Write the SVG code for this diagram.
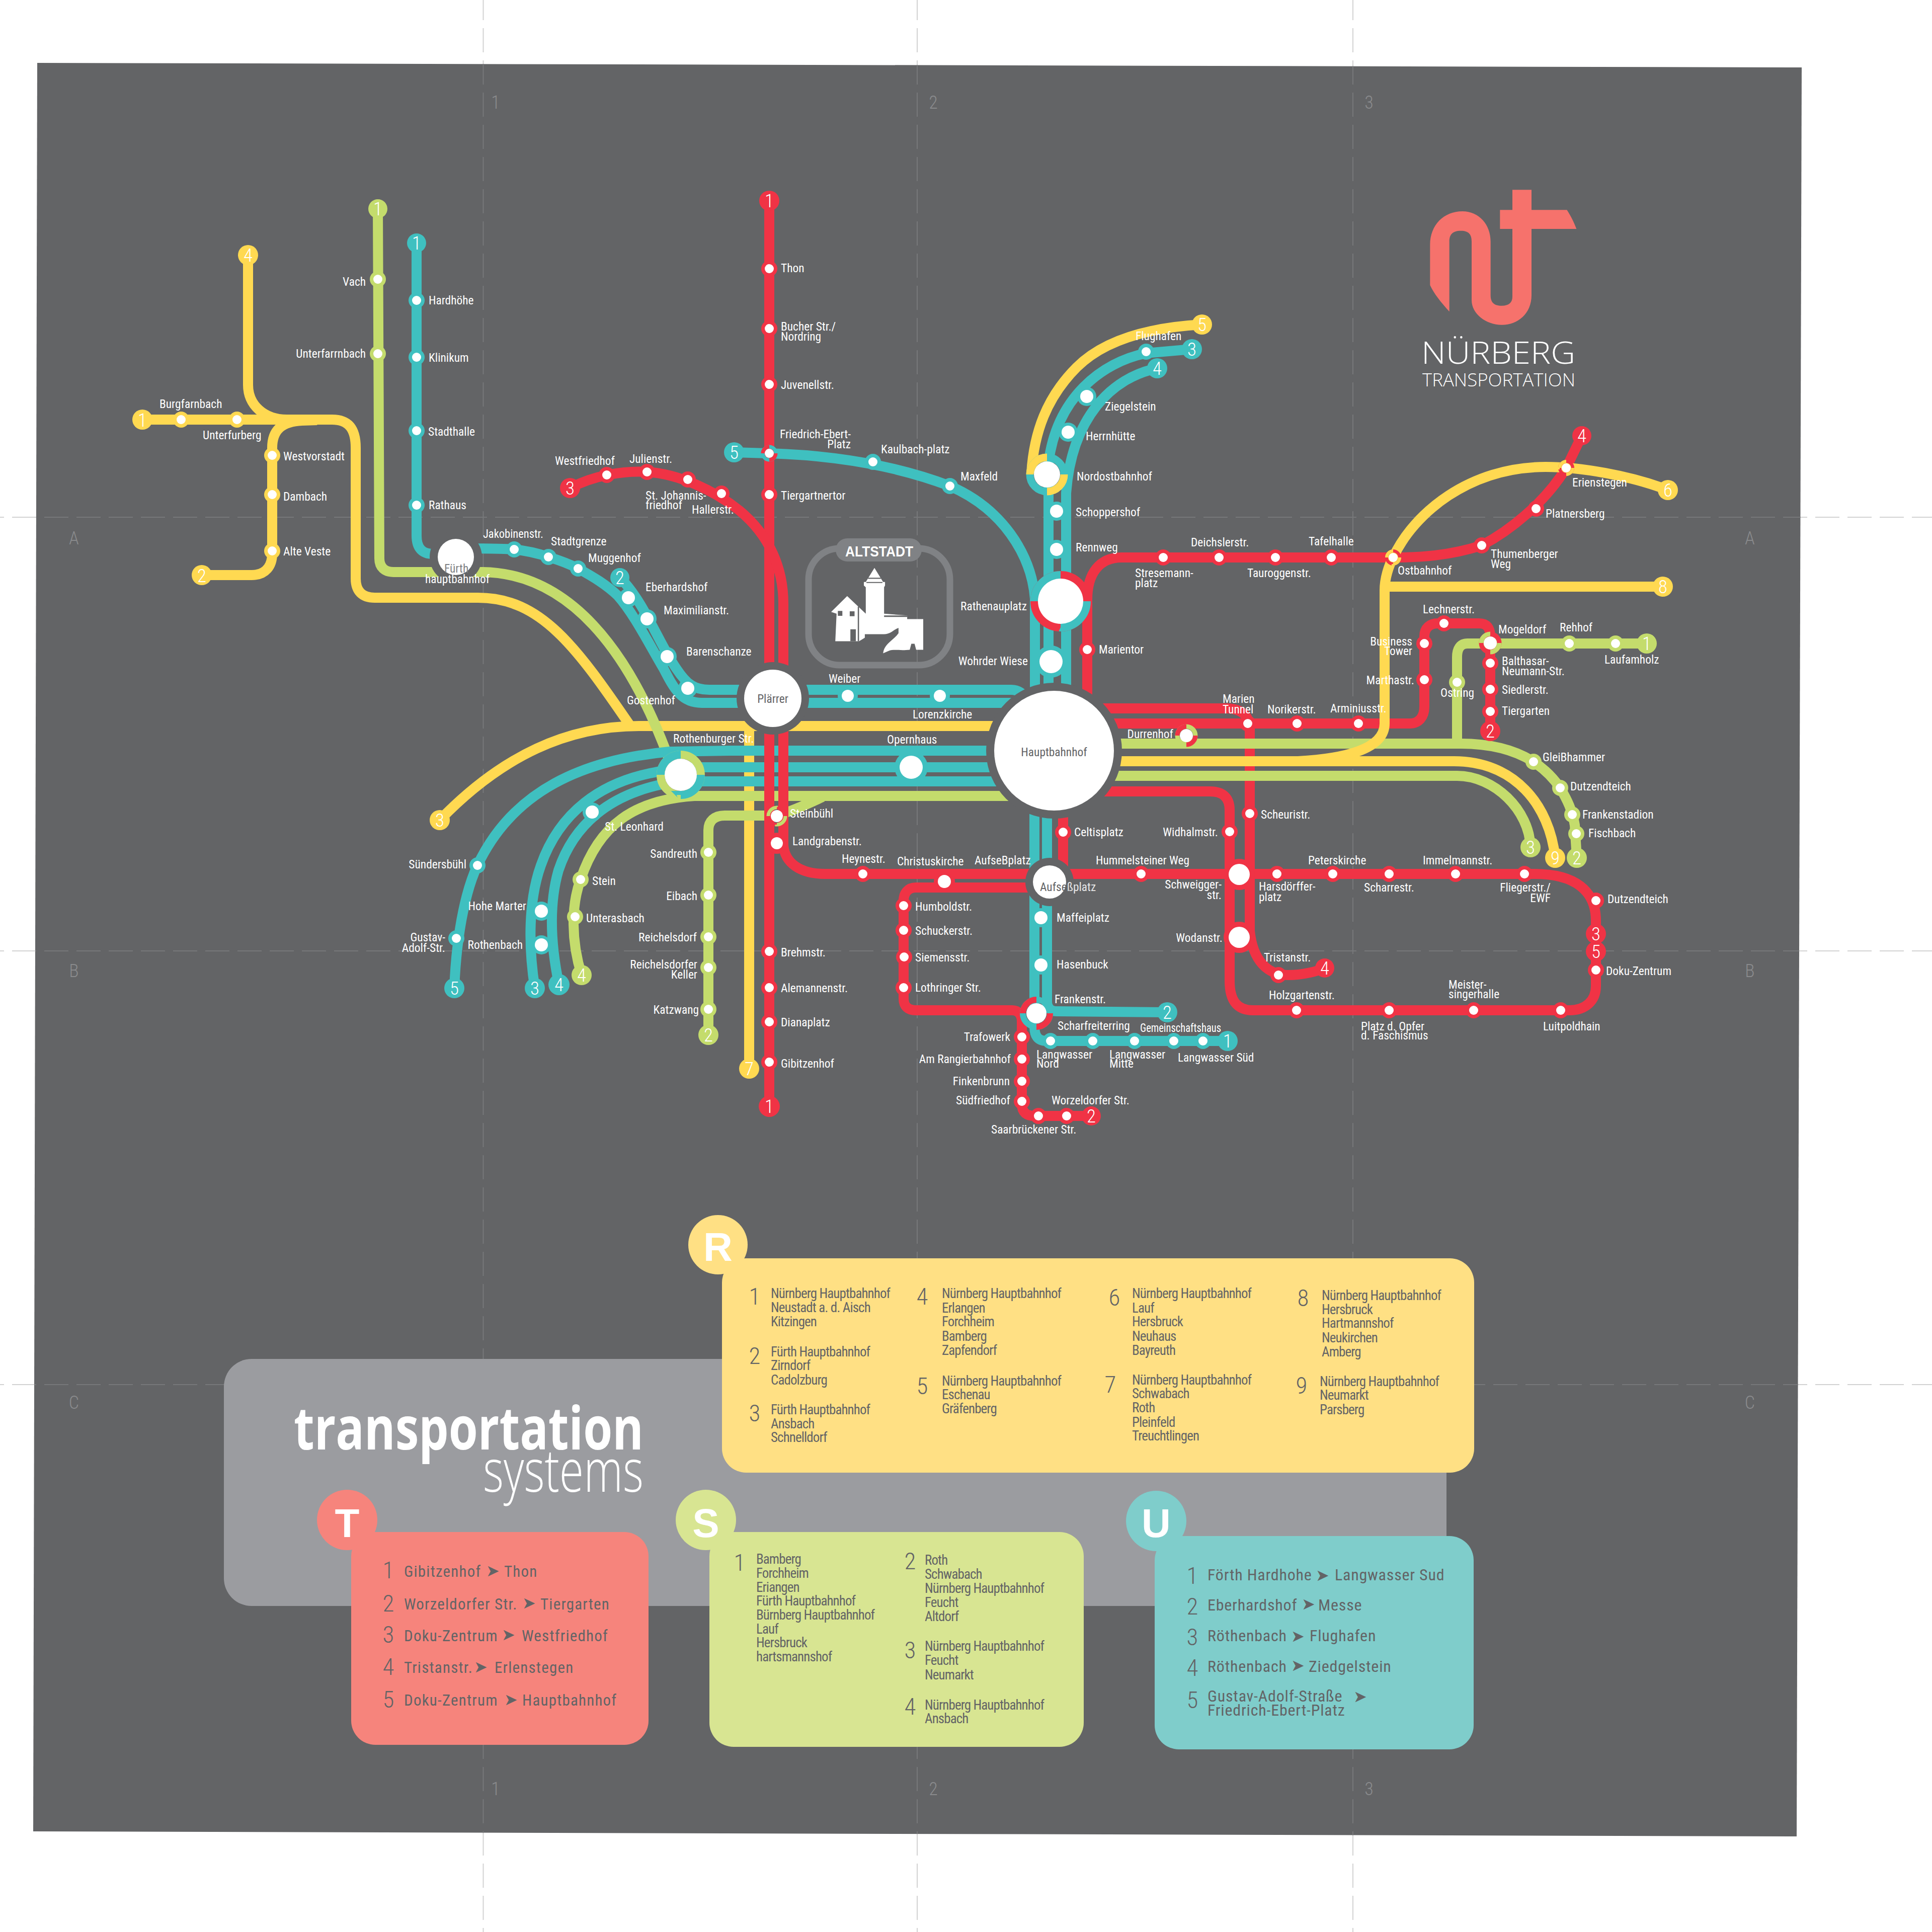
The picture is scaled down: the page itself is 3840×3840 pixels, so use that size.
<svg xmlns="http://www.w3.org/2000/svg" width="3840" height="3840" viewBox="0 0 3840 3840">
<style>
text{font-family:"Liberation Sans Narrow","Roboto Condensed","Liberation Sans",Arial,sans-serif}
.l{font-size:23.4px;fill:#fff}.e{text-anchor:end}.c{text-anchor:middle}
.ln{fill:none;stroke-width:20;stroke-linecap:butt;stroke-linejoin:round}
.ty{stroke:#ffd951}.tg{stroke:#c4dc6c}.tt{stroke:#3fc0c0}.tr{stroke:#f03345}
.fy{fill:#ffd951}.fg{fill:#c4dc6c}.ft{fill:#3fc0c0}.fr{fill:#f03345}.w{fill:#fff}.d{fill:#636466}
.n{font-size:37px;fill:#fff;text-anchor:middle;font-weight:300}
.q{fill:none;stroke-dasharray:1 1}
.gd{stroke-width:2;fill:none;stroke-dasharray:48 16}
.gl{font-size:36px;fill:#8a8b8d;text-anchor:middle;font-family:"Roboto Condensed","Open Sans",sans-serif;font-weight:300}
.b{font-size:27px;fill:#636466;letter-spacing:-.9px}
.bn{font-size:47px;fill:#636466;text-anchor:middle;font-weight:300}
.r{font-size:31px;fill:#636466;letter-spacing:1.2px}
.u{font-size:32px;fill:#636466;letter-spacing:.8px}
.ar{font-size:32px;fill:#636466;font-family:"DejaVu Sans",sans-serif}
.big{font-size:80px;font-weight:bold;fill:#fff;text-anchor:middle;font-family:"Liberation Sans",sans-serif}
</style>
<defs>
<g id="sr"><circle r="16" class="fr"/><circle r="9" class="w"/></g>
<g id="st"><circle r="16" class="ft"/><circle r="9" class="w"/></g>
<g id="sg"><circle r="16" class="fg"/><circle r="9" class="w"/></g>
<g id="sy"><circle r="16" class="fy"/><circle r="9" class="w"/></g>
<g id="sT"><circle r="19" class="ft"/><circle r="13" class="w"/></g>
<path id="gv" d="M960.5 0V3840M1823 0V3840M2689 0V3840" stroke-dashoffset="8"/>
<path id="gh" d="M0 1028H3840M0 1890H3840M0 2752H3840" stroke-dashoffset="40"/>
</defs>
<rect width="3840" height="3840" fill="#fff"/>
<g id="margin-marks" class="gd" stroke="#d2d2d2"><use href="#gv"/><use href="#gh"/></g>
<polygon id="sheet" points="74,125 3581,134 3571,3650 66,3640" fill="#636466"/>
<g id="grid">
<clipPath id="sheetclip"><polygon points="74,125 3581,134 3571,3650 66,3640"/></clipPath>
<g class="gd" stroke="#77787a" clip-path="url(#sheetclip)"><use href="#gv"/><use href="#gh"/></g>
<text class="gl" x="985" y="216">1</text><text class="gl" x="1855" y="216">2</text><text class="gl" x="2721" y="216">3</text>
<text class="gl" x="985" y="3568">1</text><text class="gl" x="1855" y="3568">2</text><text class="gl" x="2721" y="3568">3</text>
<text class="gl" x="147" y="1082">A</text><text class="gl" x="147" y="1942">B</text><text class="gl" x="147" y="2800">C</text>
<text class="gl" x="3478" y="1082">A</text><text class="gl" x="3478" y="1942">B</text><text class="gl" x="3478" y="2800">C</text>
</g>
<g id="connectors">
<g id="lines-yellow" class="ln ty">
<path d="M283,834 L660,834 C695,834 707,855 707,890 L707,1150 C707,1175 720,1188 745,1188 L950,1188 C1075,1188 1145,1285 1255,1446"/>
<path d="M493,507 L493,765 C493,805 525,834 570,834"/>
<path d="M401,1143 L500,1143 C528,1143 541,1125 541,1100 L541,890 C541,855 560,838 600,836 L630,835"/>
<path d="M874,1630 C1000,1500 1130,1443 1270,1443 L2010,1443"/>
<path d="M1489,1443 L1489,2124"/>
</g>
<g id="lines-green-west" class="ln tg">
<path d="M751,415 L754,1110 C754,1128 765,1137 782,1137 L960,1137 C1130,1140 1250,1290 1330,1510"/>
<path d="M1156,1938 C1135,1870 1135,1800 1154,1748 C1190,1640 1260,1590 1380,1582 L2010,1582"/>
<path d="M1408,2057 L1408,1650 C1408,1632 1420,1621 1440,1621 L1544,1621 C1575,1612 1600,1600 1635,1584"/>
</g>
<g id="lines-teal" class="ln tt">
<path d="M828,483 L828,1065 C828,1090 840,1101 860,1101 L906,1101"/>
<path d="M906,1090 C950,1090 1000,1090 1022,1092 C1050,1095 1070,1100 1090,1107 C1110,1113 1130,1120 1149,1130 C1180,1147 1205,1162 1228,1184 C1260,1220 1290,1280 1319,1329 C1340,1370 1355,1397 1395,1397 L2010,1397"/>
<path d="M1232,1148 C1280,1195 1310,1280 1345,1330 C1365,1360 1380,1371 1410,1371 L2010,1371 Q2030,1371 2042,1392"/>
<path d="M1459,899 L1529,901 C1660,905 1780,925 1888,966 C1990,1010 2050,1100 2057,1190 L2057,1400"/>
<path d="M2369,694 L2278,702 C2190,720 2100,790 2084,920 L2084,1400"/>
<path d="M2300,732 C2210,750 2130,830 2119,980 L2119,1400"/>
<path d="M903,1964 C908,1840 930,1760 949,1720 C1020,1570 1160,1510 1330,1494 L1450,1492 L2020,1492"/>
<path d="M1063,1964 C1050,1880 1050,1790 1075,1720 C1110,1620 1190,1550 1320,1532"/>
<path d="M1111,1957 C1095,1880 1090,1800 1110,1730 C1140,1640 1210,1580 1320,1558"/>
<path d="M1353,1525 L2010,1525M1353,1553 L2010,1553"/>
<path d="M2056,1600 L2056,2040 C2056,2058 2062,2069 2080,2069 L2440,2069"/>
<path d="M2081,1600 L2081,1990 C2081,2003 2088,2010 2100,2010 L2320,2012"/>
</g>
<g id="lines-red" class="ln tr">
<path d="M1529,399 L1529,2199"/>
<path d="M1133,970 C1180,945 1240,935 1286,938 C1350,942 1420,975 1470,1015 C1530,1065 1557,1130 1557,1200 L1557,1680 C1560,1715 1590,1737 1640,1737 L3050,1737 C3130,1737 3172,1770 3172,1830 L3172,1960 C3172,1990 3150,2008 3120,2008 L2490,2008 C2460,2008 2444,1990 2444,1950 L2444,1610 C2444,1585 2430,1573 2405,1573 L2190,1573"/>
<path d="M3144,866 L3113,930 C3070,1000 3000,1055 2945,1084 C2880,1105 2820,1108 2769,1108 L2229,1108 C2185,1108 2161,1140 2161,1192 L2161,1420"/>
<path d="M2180,1408 L2440,1408 Q2484,1410 2484,1450 L2484,1850 C2490,1910 2520,1938 2560,1938 C2590,1938 2620,1930 2633,1924"/>
<path d="M2190,1438 L2802,1438 C2820,1438 2831,1425 2831,1405 L2831,1265 C2831,1248 2842,1239 2858,1239 L2940,1239 C2955,1239 2962,1248 2962,1265 L2962,1453"/>
<path d="M2113,1600 L2113,1740"/>
<path d="M2060,1764 L1820,1764 C1805,1764 1796,1775 1796,1790 L1796,1985 C1796,2000 1805,2008 1820,2008 L2012,2008 C2025,2008 2031,2018 2031,2030 L2031,2195 C2031,2210 2040,2218 2055,2218 L2169,2218"/>
</g>
<g id="lines-east" class="ln">
<path class="tg" d="M2200,1478 L2903,1478 C2960,1478 3010,1490 3048,1514 C3075,1532 3090,1550 3101,1566 C3115,1590 3125,1610 3130,1640 L3134,1705"/>
<path class="tg" d="M2896,1478 L2896,1306 C2896,1290 2902,1279 2917,1279 L3273,1279"/>
<path class="tg" d="M2190,1542 L2896,1542 C2970,1542 3040,1610 3042,1684"/>
<path class="ty" d="M2190,1513 L2890,1513 C3010,1513 3080,1600 3091,1705"/>
<path class="ty" d="M2580,1513 C2670,1508 2752,1490 2752,1438 L2752,1173 C2752,1150 2760,1125 2769,1108 C2810,1020 2920,928 3072,928 C3140,928 3240,945 3315,974"/>
<path class="ty" d="M2752,1166 L3305,1166"/>
</g>
<path id="line-yellow-r5" class="ln ty" d="M2389,645 C2300,650 2200,670 2140,730 C2080,790 2055,860 2050,940"/>
</g>

<g id="terminals">
<g><circle cx="283" cy="834" r="20" class="fy"/><text class="n" x="283" y="848">1</text></g>
<g><circle cx="493" cy="507" r="20" class="fy"/><text class="n" x="493" y="520">4</text></g>
<g><circle cx="401" cy="1143" r="20" class="fy"/><text class="n" x="401" y="1157">2</text></g>
<g><circle cx="874" cy="1630" r="20" class="fy"/><text class="n" x="874" y="1643">3</text></g>
<g><circle cx="1489" cy="2124" r="20" class="fy"/><text class="n" x="1489" y="2137">7</text></g>
<g><circle cx="2389" cy="645" r="20" class="fy"/><text class="n" x="2389" y="658">5</text></g>
<g><circle cx="3315" cy="974" r="20" class="fy"/><text class="n" x="3315" y="987">6</text></g>
<g><circle cx="3305" cy="1166" r="20" class="fy"/><text class="n" x="3305" y="1179">8</text></g>
<g><circle cx="3091" cy="1705" r="20" class="fy"/><text class="n" x="3091" y="1718">9</text></g>
<g><circle cx="751" cy="415" r="19" class="fg"/><text class="n" x="751" y="428">1</text></g>
<g><circle cx="1408" cy="2057" r="20" class="fg"/><text class="n" x="1408" y="2070">2</text></g>
<g><circle cx="1156" cy="1938" r="20" class="fg"/><text class="n" x="1156" y="1951">4</text></g>
<g><circle cx="3273" cy="1279" r="20" class="fg"/><text class="n" x="3273" y="1292">1</text></g>
<g><circle cx="3042" cy="1684" r="20" class="fg"/><text class="n" x="3042" y="1697">3</text></g>
<g><circle cx="3134" cy="1705" r="20" class="fg"/><text class="n" x="3134" y="1718">2</text></g>
<g><circle cx="828" cy="483" r="19" class="ft"/><text class="n" x="828" y="496">1</text></g>
<g><circle cx="1232" cy="1148" r="19" class="ft"/><text class="n" x="1232" y="1161">2</text></g>
<g><circle cx="1459" cy="899" r="20" class="ft"/><text class="n" x="1459" y="912">5</text></g>
<g><circle cx="2369" cy="694" r="20" class="ft"/><text class="n" x="2369" y="707">3</text></g>
<g><circle cx="2300" cy="732" r="20" class="ft"/><text class="n" x="2300" y="745">4</text></g>
<g><circle cx="903" cy="1964" r="20" class="ft"/><text class="n" x="903" y="1977">5</text></g>
<g><circle cx="1063" cy="1964" r="20" class="ft"/><text class="n" x="1063" y="1977">3</text></g>
<g><circle cx="1111" cy="1957" r="21" class="ft"/><text class="n" x="1111" y="1970">4</text></g>
<g><circle cx="2320" cy="2012" r="20" class="ft"/><text class="n" x="2320" y="2025">2</text></g>
<g><circle cx="2440" cy="2069" r="20" class="ft"/><text class="n" x="2440" y="2082">1</text></g>
<g><circle cx="1529" cy="399" r="20" class="fr"/><text class="n" x="1529" y="412">1</text></g>
<g><circle cx="1529" cy="2199" r="21" class="fr"/><text class="n" x="1529" y="2212">1</text></g>
<g><circle cx="1133" cy="970" r="20" class="fr"/><text class="n" x="1133" y="983">3</text></g>
<g><circle cx="3144" cy="866" r="19" class="fr"/><text class="n" x="3144" y="879">4</text></g>
<g><circle cx="2962" cy="1453" r="20" class="fr"/><text class="n" x="2962" y="1466">2</text></g>
<g><circle cx="2633" cy="1924" r="19" class="fr"/><text class="n" x="2633" y="1937">4</text></g>
<g><circle cx="3172" cy="1856" r="20" class="fr"/><text class="n" x="3172" y="1869">3</text></g>
<g><circle cx="3172" cy="1891" r="20" class="fr"/><text class="n" x="3172" y="1904">5</text></g>
<g><circle cx="2169" cy="2218" r="19" class="fr"/><text class="n" x="2169" y="2231">2</text></g>
</g>

<g id="stations-yellow">
<g id="burgfarnbach"><use href="#sy" x="360" y="834"/><text class="l" x="317" y="811">Burgfarnbach</text></g>
<g id="unterfurberg"><use href="#sy" x="471" y="834"/><text class="l" x="403" y="873">Unterfurberg</text></g>
<g id="westvorstadt"><use href="#sy" x="541" y="905"/><text class="l" x="563" y="915">Westvorstadt</text></g>
<g id="dambach"><use href="#sy" x="541" y="983"/><text class="l" x="563" y="995">Dambach</text></g>
<g id="alte-veste"><use href="#sy" x="541" y="1095"/><text class="l" x="563" y="1104">Alte Veste</text></g>
</g>
<g id="stations-green">
<g id="vach"><use href="#sg" x="751" y="555"/><text class="l e" x="727" y="568">Vach</text></g>
<g id="unterfarrnbach"><use href="#sg" x="751" y="703"/><text class="l e" x="727" y="711">Unterfarrnbach</text></g>
<g id="sandreuth"><use href="#sg" x="1408" y="1694"/><text class="l e" x="1386" y="1705">Sandreuth</text></g>
<g id="eibach"><use href="#sg" x="1408" y="1779"/><text class="l e" x="1386" y="1789">Eibach</text></g>
<g id="reichelsdorf"><use href="#sg" x="1408" y="1862"/><text class="l e" x="1385" y="1871">Reichelsdorf</text></g>
<g id="reichelsdorfer-keller"><use href="#sg" x="1408" y="1923"/><text class="l e" x="1386" y="1925">Reichelsdorfer</text><text class="l e" x="1386" y="1945">Keller</text></g>
<g id="katzwang"><use href="#sg" x="1408" y="2006"/><text class="l e" x="1389" y="2015">Katzwang</text></g>
<g id="stein"><use href="#sg" x="1154" y="1748"/><text class="l" x="1177" y="1759">Stein</text></g>
<g id="unterasbach"><use href="#sg" x="1143" y="1822"/><text class="l" x="1165" y="1833">Unterasbach</text></g>
<g id="ostring"><use href="#sg" x="2896" y="1356"/><text class="l" x="2863" y="1385">Ostring</text></g>
<g id="rehhof"><use href="#sg" x="3119" y="1279"/><text class="l" x="3100" y="1255">Rehhof</text></g>
<g id="laufamholz"><use href="#sg" x="3211" y="1279"/><text class="l" x="3189" y="1319">Laufamholz</text></g>
<g id="gleisshammer"><use href="#sg" x="3048" y="1514"/><text class="l" x="3066" y="1513">GleiBhammer</text></g>
<g id="dutzendteich-s"><use href="#sg" x="3101" y="1566"/><text class="l" x="3121" y="1571">Dutzendteich</text></g>
<g id="frankenstadion"><use href="#sg" x="3125" y="1619"/><text class="l" x="3145" y="1627">Frankenstadion</text></g>
<g id="fischbach"><use href="#sg" x="3133" y="1657"/><text class="l" x="3157" y="1664">Fischbach</text></g>
</g>
<g id="stations-teal">
<g id="hardhoehe"><use href="#st" x="828" y="597"/><text class="l" x="852" y="605">Hardhöhe</text></g>
<g id="klinikum"><use href="#st" x="828" y="710"/><text class="l" x="852" y="719">Klinikum</text></g>
<g id="stadthalle"><use href="#st" x="828" y="856"/><text class="l" x="851" y="866">Stadthalle</text></g>
<g id="rathaus"><use href="#st" x="828" y="1004"/><text class="l" x="852" y="1012">Rathaus</text></g>
<g id="jakobinenstr"><use href="#st" x="1022" y="1092"/><text class="l" x="960" y="1069" textLength="120" lengthAdjust="spacingAndGlyphs">Jakobinenstr.</text></g>
<g id="stadtgrenze"><use href="#st" x="1090" y="1107"/><text class="l" x="1095" y="1084">Stadtgrenze</text></g>
<g id="muggenhof"><use href="#st" x="1149" y="1130"/><text class="l" x="1169" y="1117">Muggenhof</text></g>
<g id="eberhardshof"><use href="#sT" x="1249" y="1188"/><text class="l" x="1283" y="1175">Eberhardshof</text></g>
<g id="maximilianstr"><use href="#sT" x="1286" y="1230"/><text class="l" x="1319" y="1221">Maximilianstr.</text></g>
<g id="barenschanze"><use href="#sT" x="1326" y="1305"/><text class="l" x="1364" y="1303">Barenschanze</text></g>
<g id="gostenhof"><use href="#sT" x="1367" y="1368"/><text class="l" x="1246" y="1400">Gostenhof</text></g>
<g id="kaulbach-platz"><use href="#st" x="1735" y="918"/><text class="l" x="1751" y="901">Kaulbach-platz</text></g>
<g id="maxfeld"><use href="#st" x="1888" y="966"/><text class="l" x="1909" y="955">Maxfeld</text></g>
<g id="flughafen"><use href="#st" x="2278" y="699"/><text class="l" x="2257" y="676">Flughafen</text></g>
<g id="ziegelstein"><use href="#sT" x="2160" y="788"/><text class="l" x="2196" y="816">Ziegelstein</text></g>
<g id="herrnhuette"><use href="#sT" x="2123" y="859"/><text class="l" x="2158" y="875">Herrnhütte</text></g>
<g id="schoppershof"><use href="#sT" x="2100" y="1016"/><text class="l" x="2138" y="1026">Schoppershof</text></g>
<g id="rennweg"><use href="#sT" x="2100" y="1092"/><text class="l" x="2138" y="1096">Rennweg</text></g>
<g id="wohrder-wiese"><circle cx="2089" cy="1315" r="32" class="ft"/><circle cx="2089" cy="1315" r="23" class="w"/><text class="l e" x="2043" y="1322">Wohrder Wiese</text></g>
<g id="weiber"><circle cx="1685" cy="1383" r="20" class="ft"/><circle cx="1685" cy="1383" r="12" class="w"/><text class="l" x="1647" y="1357">Weiber</text></g>
<g id="lorenzkirche"><circle cx="1868" cy="1383" r="20" class="ft"/><circle cx="1868" cy="1383" r="12" class="w"/><text class="l" x="1814" y="1428">Lorenzkirche</text></g>
<g id="opernhaus"><circle cx="1811" cy="1525" r="33" class="ft"/><circle cx="1811" cy="1525" r="23" class="w"/><text class="l" x="1763" y="1478">Opernhaus</text></g>
<g id="st-leonhard"><use href="#sT" x="1177" y="1614"/><text class="l" x="1202" y="1651">St. Leonhard</text></g>
<g id="suendersbuehl"><use href="#st" x="949" y="1720"/><text class="l e" x="927" y="1726">Sündersbühl</text></g>
<g id="gustav-adolf"><use href="#st" x="907" y="1865"/><text class="l e" x="885" y="1871">Gustav-</text><text class="l e" x="885" y="1892">Adolf-Str.</text></g>
<g id="hohe-marter"><circle cx="1076" cy="1811" r="19" class="ft"/><circle cx="1076" cy="1811" r="13" class="w"/><text class="l e" x="1046" y="1809">Hohe Marter</text></g>
<g id="rothenbach"><circle cx="1076" cy="1878" r="19" class="ft"/><circle cx="1076" cy="1878" r="13" class="w"/><text class="l e" x="1039" y="1886">Rothenbach</text></g>
<g id="maffeiplatz"><use href="#sT" x="2069" y="1824"/><text class="l" x="2100" y="1832">Maffeiplatz</text></g>
<g id="hasenbuck"><use href="#sT" x="2069" y="1918"/><text class="l" x="2100" y="1925">Hasenbuck</text></g>
<g id="langwasser-nord"><use href="#st" x="2088" y="2069"/><text class="l" x="2060" y="2104">Langwasser</text><text class="l" x="2060" y="2122">Nord</text></g>
<g id="scharfreiterring"><use href="#st" x="2172" y="2069"/><text class="l" x="2102" y="2047">Scharfreiterring</text></g>
<g id="langwasser-mitte"><use href="#st" x="2255" y="2069"/><text class="l" x="2205" y="2104">Langwasser</text><text class="l" x="2205" y="2122">Mitte</text></g>
<g id="gemeinschaftshaus"><use href="#st" x="2333" y="2069"/><text class="l" x="2266" y="2051" textLength="161" lengthAdjust="spacingAndGlyphs">Gemeinschaftshaus</text></g>
<g id="langwasser-sued"><use href="#st" x="2391" y="2069"/><text class="l" x="2341" y="2110">Langwasser Süd</text></g>
<text class="l" x="2096" y="1994">Frankenstr.</text>
<text class="l" x="1338" y="1476">Rothenburger Str.</text>
</g>
<g id="stations-red">
<g id="thon"><use href="#sr" x="1529" y="534"/><text class="l" x="1552" y="541">Thon</text></g>
<g id="bucher"><use href="#sr" x="1529" y="653"/><text class="l" x="1552" y="657">Bucher Str./</text><text class="l" x="1552" y="677">Nordring</text></g>
<g id="juvenellstr"><use href="#sr" x="1529" y="764"/><text class="l" x="1552" y="773">Juvenellstr.</text></g>
<g id="tiergartnertor"><use href="#sr" x="1529" y="983"/><text class="l" x="1552" y="993">Tiergartnertor</text></g>
<g id="brehmstr"><use href="#sr" x="1529" y="1891"/><text class="l" x="1552" y="1901">Brehmstr.</text></g>
<g id="alemannenstr"><use href="#sr" x="1529" y="1963"/><text class="l" x="1552" y="1972">Alemannenstr.</text></g>
<g id="dianaplatz"><use href="#sr" x="1529" y="2031"/><text class="l" x="1552" y="2040">Dianaplatz</text></g>
<g id="gibitzenhof"><use href="#sr" x="1529" y="2111"/><text class="l" x="1552" y="2122">Gibitzenhof</text></g>
<g id="westfriedhof"><use href="#sr" x="1206" y="944"/><text class="l" x="1103" y="924">Westfriedhof</text></g>
<g id="julienstr"><use href="#sr" x="1286" y="938"/><text class="l" x="1251" y="920">Julienstr.</text></g>
<g id="st-johannis"><use href="#sr" x="1367" y="953"/><text class="l" x="1283" y="993">St. Johannis-</text><text class="l" x="1283" y="1012">friedhof</text></g>
<g id="hallerstr"><use href="#sr" x="1434" y="981"/><text class="l" x="1375" y="1021">Hallerstr.</text></g>
<g id="stresemann"><use href="#sr" x="2312" y="1108"/><text class="l" x="2256" y="1147">Stresemann-</text><text class="l" x="2256" y="1167">platz</text></g>
<g id="deichslerstr"><use href="#sr" x="2423" y="1108"/><text class="l" x="2367" y="1086">Deichslerstr.</text></g>
<g id="tauroggenstr"><use href="#sr" x="2535" y="1108"/><text class="l" x="2479" y="1147">Tauroggenstr.</text></g>
<g id="tafelhalle"><use href="#sr" x="2646" y="1108"/><text class="l" x="2601" y="1084">Tafelhalle</text></g>
<g id="thumenberger"><use href="#sr" x="2945" y="1084"/><text class="l" x="2963" y="1109">Thumenberger</text><text class="l" x="2963" y="1129">Weg</text></g>
<g id="platnersberg"><use href="#sr" x="3053" y="1011"/><text class="l" x="3072" y="1029">Platnersberg</text></g>
<g id="marientor"><use href="#sr" x="2161" y="1291"/><text class="l" x="2184" y="1299">Marientor</text></g>
<g id="lechnerstr"><use href="#sr" x="2870" y="1239"/><text class="l" x="2828" y="1219">Lechnerstr.</text></g>
<g id="business-tower"><use href="#sr" x="2831" y="1279"/><text class="l e" x="2807" y="1283">Business</text><text class="l e" x="2807" y="1302">Tower</text></g>
<g id="marthastr"><use href="#sr" x="2831" y="1351"/><text class="l e" x="2811" y="1360">Marthastr.</text></g>
<g id="balthasar"><use href="#sr" x="2962" y="1318"/><text class="l" x="2985" y="1322">Balthasar-</text><text class="l" x="2985" y="1342">Neumann-Str.</text></g>
<g id="siedlerstr"><use href="#sr" x="2962" y="1370"/><text class="l" x="2985" y="1379">Siedlerstr.</text></g>
<g id="tiergarten"><use href="#sr" x="2962" y="1414"/><text class="l" x="2985" y="1421">Tiergarten</text></g>
<g id="marien-tunnel"><use href="#sr" x="2480" y="1438"/><text class="l" x="2430" y="1397">Marien</text><text class="l" x="2430" y="1418">Tunnel</text></g>
<g id="norikerstr"><use href="#sr" x="2578" y="1438"/><text class="l" x="2519" y="1418">Norikerstr.</text></g>
<g id="arminiusstr"><use href="#sr" x="2700" y="1438"/><text class="l" x="2644" y="1416">Arminiusstr.</text></g>
<g id="scheuristr"><use href="#sr" x="2484" y="1617"/><text class="l" x="2506" y="1627">Scheuristr.</text></g>
<g id="widhalmstr"><use href="#sr" x="2444" y="1653"/><text class="l e" x="2421" y="1662">Widhalmstr.</text></g>
<g id="celtisplatz"><use href="#sr" x="2113" y="1654"/><text class="l" x="2135" y="1662">Celtisplatz</text></g>
<g id="heynestr"><use href="#sr" x="1715" y="1737"/><text class="l" x="1673" y="1715">Heynestr.</text></g>
<g id="christuskirche"><circle cx="1877" cy="1752" r="21" class="fr"/><circle cx="1877" cy="1752" r="13" class="w"/><text class="l" x="1783" y="1720">Christuskirche</text></g>
<text class="l" x="1937" y="1718">AufseBplatz</text>
<g id="hummelsteiner"><use href="#sr" x="2268" y="1737"/><text class="l" x="2178" y="1718">Hummelsteiner Weg</text></g>
<g id="harsdoerffer"><use href="#sr" x="2538" y="1737"/><text class="l" x="2502" y="1770">Harsdörffer-</text><text class="l" x="2502" y="1791">platz</text></g>
<g id="peterskirche"><use href="#sr" x="2649" y="1737"/><text class="l" x="2600" y="1718">Peterskirche</text></g>
<g id="scharrestr"><use href="#sr" x="2761" y="1737"/><text class="l" x="2711" y="1772">Scharrestr.</text></g>
<g id="immelmannstr"><use href="#sr" x="2893" y="1737"/><text class="l" x="2828" y="1718">Immelmannstr.</text></g>
<g id="fliegerstr"><use href="#sr" x="3030" y="1737"/><text class="l e" x="3082" y="1772">Fliegerstr./</text><text class="l e" x="3082" y="1793">EWF</text></g>
<g id="dutzendteich-t"><use href="#sr" x="3172" y="1790"/><text class="l" x="3195" y="1795">Dutzendteich</text></g>
<g id="doku-zentrum"><use href="#sr" x="3172" y="1928"/><text class="l" x="3192" y="1938">Doku-Zentrum</text></g>
<g id="luitpoldhain"><use href="#sr" x="3102" y="2008"/><text class="l" x="3067" y="2048">Luitpoldhain</text></g>
<g id="meistersingerhalle"><use href="#sr" x="2929" y="2008"/><text class="l" x="2879" y="1965">Meister-</text><text class="l" x="2879" y="1984">singerhalle</text></g>
<g id="platz-opfer"><use href="#sr" x="2761" y="2008"/><text class="l" x="2705" y="2048">Platz d. Opfer</text><text class="l" x="2705" y="2066">d. Faschismus</text></g>
<g id="holzgartenstr"><use href="#sr" x="2577" y="2008"/><text class="l" x="2522" y="1986">Holzgartenstr.</text></g>
<g id="tristanstr"><use href="#sr" x="2541" y="1938"/><text class="l" x="2512" y="1911">Tristanstr.</text></g>
<g id="humboldstr"><use href="#sr" x="1796" y="1800"/><text class="l" x="1819" y="1810">Humboldstr.</text></g>
<g id="schuckerstr"><use href="#sr" x="1796" y="1849"/><text class="l" x="1819" y="1858">Schuckerstr.</text></g>
<g id="siemensstr"><use href="#sr" x="1797" y="1902"/><text class="l" x="1819" y="1911">Siemensstr.</text></g>
<g id="lothringer"><use href="#sr" x="1796" y="1963"/><text class="l" x="1819" y="1971">Lothringer Str.</text></g>
<g id="trafowerk"><use href="#sr" x="2031" y="2061"/><text class="l e" x="2008" y="2069">Trafowerk</text></g>
<g id="rangierbahnhof"><use href="#sr" x="2031" y="2105"/><text class="l e" x="2009" y="2113">Am Rangierbahnhof</text></g>
<g id="finkenbrunn"><use href="#sr" x="2031" y="2149"/><text class="l e" x="2007" y="2157">Finkenbrunn</text></g>
<g id="suedfriedhof"><use href="#sr" x="2031" y="2189"/><text class="l e" x="2008" y="2195">Südfriedhof</text></g>
<g id="saarbruecken"><use href="#sr" x="2064" y="2218"/><text class="l" x="1970" y="2253">Saarbrückener Str.</text></g>
<g id="worzeldorfer"><use href="#sr" x="2120" y="2218"/><text class="l" x="2090" y="2195">Worzeldorfer Str.</text></g>
<g id="landgrabenstr"><circle cx="1544" cy="1676" r="21" class="fr"/><circle cx="1544" cy="1676" r="12" class="w"/><text class="l" x="1575" y="1680">Landgrabenstr.</text></g>
</g>

<g id="interchanges">
<g id="fuerth"><circle cx="906" cy="1107" r="52" class="d"/><circle cx="906" cy="1107" r="36" class="w"/><text class="l" x="883" y="1138" style="fill:#808285">Fürth</text><text class="l" x="845" y="1159">hauptbahnhof</text></g>
<g id="plaerrer"><circle cx="1536" cy="1388" r="72" class="d"/><circle cx="1536" cy="1388" r="57" class="w"/><text class="l c" x="1536" y="1397" style="fill:#636466">Plärrer</text></g>
<g id="hauptbahnhof"><circle cx="2095" cy="1492" r="135" class="d"/><circle cx="2095" cy="1492" r="119" class="w"/><text class="l c" x="2095" y="1503" style="fill:#636466">Hauptbahnhof</text></g>
<g id="aufsessplatz"><circle cx="2086" cy="1753" r="48" class="d"/><circle cx="2086" cy="1753" r="33" class="w"/><text class="l" x="2067" y="1771" style="fill:#636466">Aufse<tspan fill="#e6e6e6" style="fill:#e6e6e6">ßplatz</tspan></text></g>
<g id="schweiggerstr"><circle cx="2463" cy="1738" r="31" class="fr"/><circle cx="2463" cy="1738" r="21" class="w"/><text class="l e" x="2428" y="1766">Schweigger-</text><text class="l e" x="2428" y="1787">str.</text></g>
<g id="wodanstr"><circle cx="2463" cy="1863" r="31" class="fr"/><circle cx="2463" cy="1863" r="21" class="w"/><text class="l e" x="2430" y="1872">Wodanstr.</text></g>
<g id="rathenauplatz"><circle cx="2108" cy="1195" r="52" class="q" stroke="#f03345" stroke-width="16" style="stroke-dasharray:none"/><circle cx="2108" cy="1195" r="52" class="q" stroke="#3fc0c0" stroke-width="16" pathLength="4"/><circle cx="2108" cy="1195" r="45" class="w"/><text class="l e" x="2041" y="1213">Rathenauplatz</text></g>
<g id="nordostbahnhof"><circle cx="2081" cy="943" r="34" class="q" stroke="#3fc0c0" stroke-width="15" style="stroke-dasharray:none"/><circle cx="2081" cy="943" r="34" class="q" stroke="#ffd951" stroke-width="15" pathLength="4"/><circle cx="2081" cy="943" r="26" class="w"/><text class="l" x="2140" y="955">Nordostbahnhof</text></g>
<g id="rothenburger-str"><circle cx="1353" cy="1540" r="40" class="q" stroke="#c4dc6c" stroke-width="16" style="stroke-dasharray:none"/><circle cx="1353" cy="1540" r="40" class="q" stroke="#3fc0c0" stroke-width="16" pathLength="4"/><circle cx="1353" cy="1540" r="32" class="w"/></g>
<g id="frankenstr"><circle cx="2060" cy="2014" r="27" class="q" stroke="#3fc0c0" stroke-width="12" style="stroke-dasharray:none"/><circle cx="2060" cy="2014" r="27" class="q" stroke="#f03345" stroke-width="12" pathLength="4"/><circle cx="2060" cy="2014" r="20" class="w"/></g>
<g id="duerrenhof"><circle cx="2358" cy="1462" r="18" class="q" stroke="#c4dc6c" stroke-width="9" style="stroke-dasharray:none"/><circle cx="2358" cy="1462" r="18" class="q" stroke="#f03345" stroke-width="9" pathLength="4"/><circle cx="2358" cy="1462" r="13" class="w"/><text class="l e" x="2332" y="1467">Durrenhof</text></g>
<g id="mogeldorf"><circle cx="2962" cy="1278" r="18" class="q" stroke="#f03345" stroke-width="9" style="stroke-dasharray:none"/><circle cx="2962" cy="1278" r="18" class="q" stroke="#c4dc6c" stroke-width="9" pathLength="4"/><circle cx="2962" cy="1278" r="13" class="w"/><text class="l" x="2978" y="1259">Mogeldorf</text></g>
<g id="friedrich-ebert"><circle cx="1529" cy="901" r="13" class="q" stroke="#3fc0c0" stroke-width="7" style="stroke-dasharray:none"/><circle cx="1529" cy="901" r="13" class="q" stroke="#f03345" stroke-width="7" pathLength="4"/><circle cx="1529" cy="901" r="9" class="w"/><text class="l e" x="1691" y="871">Friedrich-Ebert-</text><text class="l e" x="1691" y="891">Platz</text></g>
<g id="ostbahnhof"><circle cx="2769" cy="1108" r="13" class="q" stroke="#f03345" stroke-width="6" style="stroke-dasharray:none"/><circle cx="2769" cy="1108" r="13" class="q" stroke="#ffd951" stroke-width="6" pathLength="4"/><circle cx="2769" cy="1108" r="9" class="w"/><text class="l" x="2778" y="1142">Ostbahnhof</text></g>
<g id="erlenstegen"><circle cx="3113" cy="930" r="13" class="q" stroke="#f03345" stroke-width="6" style="stroke-dasharray:none"/><circle cx="3113" cy="930" r="13" class="q" stroke="#ffd951" stroke-width="6" pathLength="4"/><circle cx="3113" cy="930" r="9" class="w"/><text class="l" x="3125" y="967">Erienstegen</text></g>
<g id="steinbuehl"><circle cx="1544" cy="1622" r="17" class="q" stroke="#f03345" stroke-width="7" style="stroke-dasharray:none"/><circle cx="1544" cy="1622" r="17" class="q" stroke="#c4dc6c" stroke-width="7" pathLength="4"/><circle cx="1544" cy="1622" r="12" class="w"/><text class="l" x="1570" y="1625">Steinbühl</text></g>
</g>

<g id="altstadt">
<rect x="1607" y="1090" width="281" height="232" rx="62" fill="none" stroke="#808285" stroke-width="13"/>
<rect x="1661" y="1070" width="171" height="46" rx="23" fill="#808285"/>
<text x="1680" y="1106" font-size="29" font-weight="bold" fill="#fff" textLength="135" lengthAdjust="spacingAndGlyphs" style="font-family:'Liberation Sans',sans-serif">ALTSTADT</text>
<g transform="translate(1400,350) scale(.6378,.7015)">
<path fill="#fff" d="M395,1235 L445,1190 L503,1240 L503,1165 L497,1160 L497,1150 L503,1150 L530,1110 L557,1150 L563,1150 L563,1160 L560,1165 L560,1240 L632,1245 L632,1255 L682,1255 L682,1342 L660,1342 L655,1325 L645,1325 L640,1342 C610,1345 590,1340 575,1345 L557,1352 C560,1325 590,1315 605,1295 L605,1280 C590,1285 580,1298 560,1298 L500,1298 L500,1308 L482,1318 L472,1318 L408,1318 L412,1240 L395,1235 Z"/>
<path fill="#636466" d="M416,1232h14v14h-14zM453,1233h15v14h-15zM455,1284h17v34h-17zM560,1245h72v4h-72zM478,1220h4v98h-4zM510,1138h40v3h-40zM505,1150h50v3h-50z"/>
</g>
</g>

<g id="logo">
<path transform="translate(2780,340) scale(.33333)" fill="#f6726c" d="M187,680 L187,440 C187,320 270,240 380,240 C480,240 548,320 548,420 L548,740 C548,785 570,803 615,803 C655,803 678,785 678,750 L678,345 L604,345 L604,232 L678,232 L678,112 L792,112 L792,232 L1003,232 C1025,265 1045,305 1060,345 L792,345 L792,740 C792,850 710,917 615,917 C520,917 435,850 435,770 L435,420 C435,380 420,356 370,356 C320,356 302,380 302,420 L302,838 C250,780 210,730 187,680 Z"/>
<text x="2825" y="723" font-size="60" fill="#fff" textLength="306" lengthAdjust="spacingAndGlyphs" style="font-family:'Open Sans',sans-serif;font-weight:300">NÜRBERG</text>
<text x="2827" y="768" font-size="36" fill="#fff" textLength="304" lengthAdjust="spacingAndGlyphs" style="font-family:'Open Sans',sans-serif;font-weight:300">TRANSPORTATION</text>
</g>

<g id="legend">
<g id="title-panel"><rect x="445" y="2701" width="2430" height="491" rx="55" fill="#9b9ca0"/>
<text x="584" y="2881" font-size="118" font-weight="700" fill="#fff" textLength="695" lengthAdjust="spacingAndGlyphs" style="font-family:'Open Sans',sans-serif">transportation</text>
<text x="960" y="2965" font-size="118" fill="#fff" textLength="319" lengthAdjust="spacingAndGlyphs" style="font-family:'Open Sans',sans-serif;font-weight:300">systems</text></g>
<g id="legend-r">
<rect x="1435" y="2501" width="1495" height="426" rx="48" fill="#ffe084"/><circle cx="1427" cy="2474" r="59" fill="#ffe084"/><text class="big" x="1427" y="2506">R</text>
<text class="bn" x="1500" y="2593">1</text><text class="b" x="1532" y="2580">Nürnberg Hauptbahnhof</text><text class="b" x="1532" y="2608">Neustadt a. d. Aisch</text><text class="b" x="1532" y="2636">Kitzingen</text>
<text class="bn" x="1500" y="2711">2</text><text class="b" x="1532" y="2696">Fürth Hauptbahnhof</text><text class="b" x="1532" y="2723">Zirndorf</text><text class="b" x="1532" y="2752">Cadolzburg</text>
<text class="bn" x="1500" y="2825">3</text><text class="b" x="1532" y="2811">Fürth Hauptbahnhof</text><text class="b" x="1532" y="2839">Ansbach</text><text class="b" x="1532" y="2866">Schnelldorf</text>
<text class="bn" x="1833" y="2593">4</text><text class="b" x="1872" y="2580">Nürnberg Hauptbahnhof</text><text class="b" x="1872" y="2609">Erlangen</text><text class="b" x="1872" y="2636">Forchheim</text><text class="b" x="1872" y="2665">Bamberg</text><text class="b" x="1872" y="2693">Zapfendorf</text>
<text class="bn" x="1833" y="2771">5</text><text class="b" x="1872" y="2754">Nürnberg Hauptbahnhof</text><text class="b" x="1872" y="2781">Eschenau</text><text class="b" x="1872" y="2809">Gräfenberg</text>
<text class="bn" x="2215" y="2595">6</text><text class="b" x="2250" y="2580">Nürnberg Hauptbahnhof</text><text class="b" x="2250" y="2609">Lauf</text><text class="b" x="2250" y="2636">Hersbruck</text><text class="b" x="2250" y="2665">Neuhaus</text><text class="b" x="2250" y="2693">Bayreuth</text>
<text class="bn" x="2207" y="2768">7</text><text class="b" x="2250" y="2752">Nürnberg Hauptbahnhof</text><text class="b" x="2250" y="2779">Schwabach</text><text class="b" x="2250" y="2807">Roth</text><text class="b" x="2250" y="2836">Pleinfeld</text><text class="b" x="2250" y="2863">Treuchtlingen</text>
<text class="bn" x="2590" y="2596">8</text><text class="b" x="2627" y="2584">Nürnberg Hauptbahnhof</text><text class="b" x="2627" y="2612">Hersbruck</text><text class="b" x="2627" y="2639">Hartmannshof</text><text class="b" x="2627" y="2668">Neukirchen</text><text class="b" x="2627" y="2696">Amberg</text>
<text class="bn" x="2587" y="2770">9</text><text class="b" x="2623" y="2755">Nürnberg Hauptbahnhof</text><text class="b" x="2623" y="2782">Neumarkt</text><text class="b" x="2623" y="2811">Parsberg</text>
</g>
<g id="legend-t">
<rect x="698" y="3045" width="591" height="423" rx="48" fill="#f6847c"/><circle cx="690" cy="3021" r="60" fill="#f6847c"/><text class="big" x="690" y="3055">T</text>
<text class="bn" x="772" y="3137">1</text><text class="r" x="803" y="3134">Gibitzenhof</text><text class="ar" x="966" y="3133">➤</text><text class="r" x="1002" y="3134">Thon</text>
<text class="bn" x="772" y="3203">2</text><text class="r" x="803" y="3199">Worzeldorfer Str.</text><text class="ar" x="1038" y="3197">➤</text><text class="r" x="1074" y="3199">Tiergarten</text>
<text class="bn" x="772" y="3265">3</text><text class="r" x="803" y="3262">Doku-Zentrum</text><text class="ar" x="997" y="3260">➤</text><text class="r" x="1037" y="3262">Westfriedhof</text>
<text class="bn" x="772" y="3329">4</text><text class="r" x="803" y="3325">Tristanstr.</text><text class="ar" x="942" y="3324">➤</text><text class="r" x="983" y="3325">Erlenstegen</text>
<text class="bn" x="772" y="3394">5</text><text class="r" x="803" y="3390">Doku-Zentrum</text><text class="ar" x="1002" y="3389">➤</text><text class="r" x="1038" y="3390">Hauptbahnhof</text>
</g>
<g id="legend-s">
<rect x="1410" y="3045" width="744" height="427" rx="48" fill="#d8e592"/><circle cx="1403" cy="3021" r="60" fill="#d8e592"/><text class="big" x="1403" y="3055">S</text>
<text class="bn" x="1470" y="3122">1</text><text class="b" x="1503" y="3108">Bamberg</text><text class="b" x="1503" y="3136">Forchheim</text><text class="b" x="1503" y="3164">Eriangen</text><text class="b" x="1503" y="3191">Fürth Hauptbahnhof</text><text class="b" x="1503" y="3219">Bürnberg Hauptbahnhof</text><text class="b" x="1503" y="3247">Lauf</text><text class="b" x="1503" y="3274">Hersbruck</text><text class="b" x="1503" y="3302">hartsmannshof</text>
<text class="bn" x="1809" y="3119">2</text><text class="b" x="1838" y="3110">Roth</text><text class="b" x="1838" y="3138">Schwabach</text><text class="b" x="1838" y="3166">Nürnberg Hauptbahnhof</text><text class="b" x="1838" y="3194">Feucht</text><text class="b" x="1838" y="3222">Altdorf</text>
<text class="bn" x="1809" y="3296">3</text><text class="b" x="1838" y="3281">Nürnberg Hauptbahnhof</text><text class="b" x="1838" y="3309">Feucht</text><text class="b" x="1838" y="3338">Neumarkt</text>
<text class="bn" x="1809" y="3408">4</text><text class="b" x="1838" y="3398">Nürnberg Hauptbahnhof</text><text class="b" x="1838" y="3425">Ansbach</text>
</g>
<g id="legend-u">
<rect x="2295" y="3053" width="634" height="424" rx="48" fill="#7fcdcb"/><circle cx="2298" cy="3023" r="60" fill="#7fcdcb"/><text class="big" x="2298" y="3055">U</text>
<text class="bn" x="2370" y="3148">1</text><text class="u" x="2400" y="3141">Förth Hardhohe</text><text class="ar" x="2615" y="3142">➤</text><text class="u" x="2653" y="3141">Langwasser Sud</text>
<text class="bn" x="2370" y="3209">2</text><text class="u" x="2400" y="3201">Eberhardshof</text><text class="ar" x="2587" y="3199">➤</text><text class="u" x="2620" y="3201">Messe</text>
<text class="bn" x="2370" y="3270">3</text><text class="u" x="2400" y="3262">Röthenbach</text><text class="ar" x="2566" y="3263">➤</text><text class="u" x="2603" y="3262">Flughafen</text>
<text class="bn" x="2370" y="3331">4</text><text class="u" x="2400" y="3323">Röthenbach</text><text class="ar" x="2566" y="3321">➤</text><text class="u" x="2601" y="3323">Ziedgelstein</text>
<text class="bn" x="2370" y="3395">5</text><text class="u" x="2400" y="3382">Gustav-Adolf-Straße</text><text class="ar" x="2690" y="3383">➤</text><text class="u" x="2400" y="3410">Friedrich-Ebert-Platz</text>
</g>
</g>
</svg>
